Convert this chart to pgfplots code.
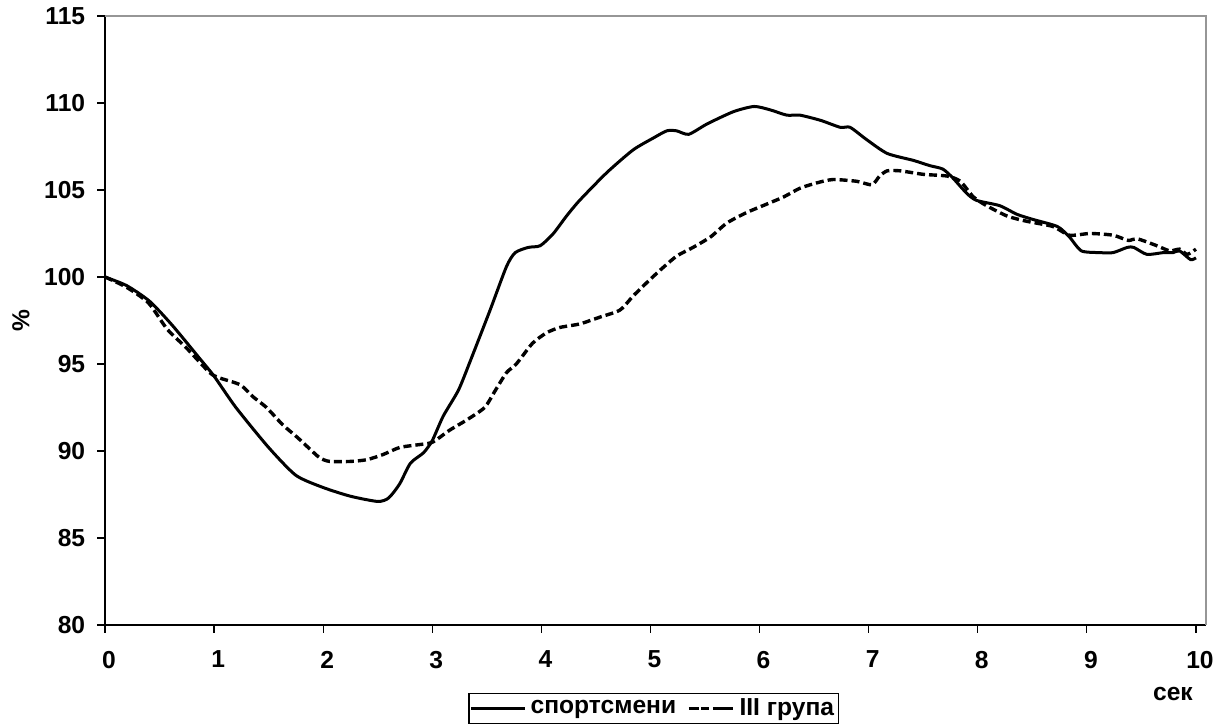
\documentclass[border=0pt]{standalone}
\usepackage{pgfplots}
\pgfplotsset{compat=1.18}
\usepackage{pgfplotstable}
\usepackage{fontspec}
\setmainfont{Liberation Sans}
\definecolor{framegray}{RGB}{150,150,150}

\pgfplotstableread{
x y
0 100
0.2 99.5
0.41 98.6
0.62 97.2
0.87 95.3
1.0 94.3
1.2 92.5
1.5 90.2
1.75 88.6
2.0 87.9
2.25 87.4
2.5 87.1
2.6 87.3
2.7 88.1
2.8 89.3
2.92 89.9
3.0 90.6
3.1 92.0
3.24 93.5
3.35 95.2
3.53 98.1
3.68 100.6
3.76 101.4
3.88 101.7
3.99 101.8
4.11 102.5
4.23 103.5
4.35 104.4
4.6 106.0
4.84 107.3
5.03 108.0
5.15 108.4
5.24 108.4
5.35 108.2
5.52 108.8
5.76 109.5
5.95 109.8
6.10 109.6
6.25 109.3
6.37 109.3
6.56 109.0
6.74 108.6
6.83 108.6
6.98 107.9
7.17 107.1
7.41 106.7
7.56 106.4
7.68 106.2
7.77 105.7
7.90 104.8
7.99 104.4
8.20 104.1
8.36 103.6
8.51 103.3
8.73 102.9
8.84 102.3
8.95 101.5
9.12 101.4
9.24 101.4
9.37 101.7
9.43 101.7
9.55 101.3
9.70 101.4
9.79 101.4
9.85 101.5
9.95 101.0
10.0 101.1
}\sportsmen

\pgfplotstableread{
x y
0 100
0.2 99.4
0.4 98.5
0.57 97.0
0.75 95.9
0.96 94.5
1.05 94.2
1.24 93.8
1.36 93.1
1.48 92.5
1.63 91.5
1.76 90.8
1.88 90.1
1.97 89.6
2.06 89.4
2.25 89.4
2.40 89.5
2.55 89.8
2.70 90.2
2.86 90.35
3.0 90.5
3.16 91.2
3.32 91.8
3.48 92.5
3.57 93.4
3.68 94.5
3.77 95.0
3.92 96.2
4.05 96.8
4.17 97.1
4.35 97.3
4.54 97.7
4.72 98.1
4.84 98.9
4.97 99.7
5.09 100.4
5.24 101.2
5.39 101.7
5.55 102.3
5.70 103.1
5.88 103.7
6.07 104.2
6.22 104.6
6.37 105.1
6.52 105.4
6.67 105.6
6.89 105.5
7.03 105.3
7.10 105.8
7.17 106.1
7.29 106.1
7.50 105.9
7.72 105.8
7.84 105.5
7.96 104.6
8.08 104.1
8.27 103.5
8.45 103.2
8.69 102.9
8.84 102.4
9.03 102.5
9.24 102.4
9.38 102.1
9.46 102.2
9.64 101.8
9.76 101.5
9.85 101.6
9.92 101.3
10.0 101.6
}\groupthree

\begin{document}
\begin{tikzpicture}
\useasboundingbox (0,0) rectangle (610.5pt,363pt);
\begin{axis}[
  at={(52.5pt,50.5pt)}, anchor=south west,
  scale only axis,
  width=550.5pt, height=304.5pt,
  xmin=0, xmax=10.092, ymin=80, ymax=115,
  xtick={0,1,...,10}, ytick={80,85,...,115},
  axis x line*=bottom, axis y line*=left,
  axis line style={-, line width=1pt, black},
  tick align=inside,
  major tick length=-4pt,
  tick style={line width=0.6pt, black},
  /pgf/number format/assume math mode=true,
  ticklabel style={font=\bfseries\fontsize{12.3}{14}\selectfont},
  xticklabel style={yshift=-9.4pt, xshift=2pt},
  yticklabel style={xshift=-6.4pt},
  xlabel={сек}, ylabel={\%},
  label style={font=\bfseries\fontsize{12.3}{14}\selectfont},
  xlabel style={at={(rel axis cs:0.970,-0.113)}, anchor=center},
  ylabel style={at={(rel axis cs:-0.0763,0.5)}, anchor=center},
  legend columns=2,
  legend style={at={(rel axis cs:0.4985,-0.1117)}, anchor=north,
    draw=black, line width=0.6pt, inner xsep=0.3pt, inner ysep=0.5pt,
    font=\bfseries\fontsize{12.3}{14}\selectfont,
    /tikz/every even column/.append style={column sep=3.5pt},
    cells={anchor=west}},
  clip=false,
]
\draw[framegray, line width=1pt] (rel axis cs:0,1) -- (rel axis cs:1,1) -- (rel axis cs:1,0);
\addplot[black, line width=1.5pt, smooth, tension=0.4,
  legend image code/.code={\path (0pt,0pt) -- (27pt,0pt); \draw[black, solid, line width=1.5pt] (3.5pt,0pt) -- (27pt,0pt);}]
  table[x=x,y=y] {\sportsmen};
\addlegendentry{спортсмени}
\addplot[black, line width=1.7pt, smooth, tension=0.4, dash pattern=on 4pt off 2pt,
  legend image code/.code={\path (0pt,0pt) -- (22.5pt,0pt); \draw[black, solid, line width=1.7pt] (0pt,0pt) -- (5pt,0pt) (14pt,0pt) -- (19pt,0pt);}]
  table[x=x,y=y] {\groupthree};
\addlegendentry{III група}
\end{axis}
\end{tikzpicture}
\end{document}
